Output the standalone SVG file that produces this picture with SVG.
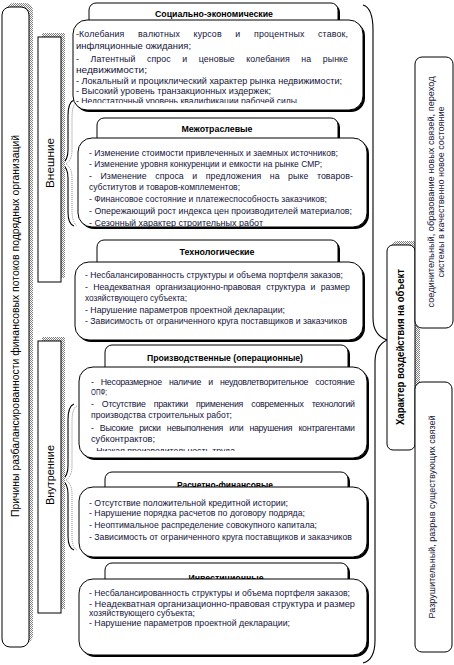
<svg xmlns="http://www.w3.org/2000/svg" width="454" height="665" viewBox="0 0 454 665">
<defs>
<pattern id="hatch" width="2" height="2" patternUnits="userSpaceOnUse">
<rect width="2" height="2" fill="#fff"/>
<rect x="0" y="0" width="1" height="1" fill="#808080"/>
<rect x="1" y="1" width="1" height="1" fill="#808080"/>
</pattern>
<clipPath id="c1"><rect x="70" y="18" width="300" height="85"/></clipPath>
<clipPath id="c4"><rect x="75" y="365" width="300" height="86"/></clipPath>
</defs>
<style>
.box{fill:#fff;stroke:#000;stroke-width:1}
.sh{fill:#000}
.hs{fill:url(#hatch)}
.br{fill:none;stroke:#000;stroke-width:1.1}
.brs{fill:none;stroke:#888;stroke-width:1;stroke-dasharray:1 1}
.t{font-family:"Liberation Sans",Arial,sans-serif;font-size:8.8px;fill:#14143a}
.h{font-family:"Liberation Sans",Arial,sans-serif;font-size:9px;font-weight:bold;fill:#000}
.v{font-family:"Liberation Sans",Arial,sans-serif;font-size:10px;fill:#000}
.vb{font-family:"Liberation Sans",Arial,sans-serif;font-size:10px;font-weight:bold;fill:#000}
.r{font-family:"Liberation Sans",Arial,sans-serif;font-size:8.5px;fill:#14143a}
</style>

<g id="connectors">
<path class="brs" d="M77,102 Q72,104 72,118 L72,150 Q72,160 66,164 Q72,168 72,178 L72,210 Q72,222 77,226"/>
<path class="br" d="M74,100 Q68,102 68,116 L68,150 Q68,160 62,164 Q68,168 68,178 L68,212 Q68,224 74,226"/>
<path class="brs" d="M77,406 Q72,408 72,422 L72,466 Q72,476 66,480 Q72,484 72,494 L72,536 Q72,548 77,550"/>
<path class="br" d="M74,404 Q68,406 68,420 L68,466 Q68,476 62,480 Q68,484 68,494 L68,536 Q68,548 74,550"/>
<path class="br" d="M363,5 Q373,8 373,30 L373,318 Q373,335 387,340 Q375,346 375,362 L375,640 Q375,660 363,663"/>
</g>

<g id="root">
<rect class="hs" x="6" y="3" width="27" height="640" rx="8"/>
<rect class="box" x="2" y="7" width="27" height="640" rx="8"/>
<text class="v" transform="translate(19,326) rotate(-90)" text-anchor="middle" textLength="382" lengthAdjust="spacingAndGlyphs">Причины разбалансированности финансовых потоков подрядных организаций</text>
</g>

<g id="external">
<rect class="hs" x="42" y="33" width="23" height="245"/>
<rect class="box" x="38" y="37" width="23" height="245"/>
<text class="v" transform="translate(53.5,163) rotate(-90)" text-anchor="middle" textLength="50" lengthAdjust="spacingAndGlyphs">Внешние</text>
</g>

<g id="internal">
<rect class="hs" x="42" y="337" width="23" height="272"/>
<rect class="box" x="38" y="341" width="23" height="272"/>
<text class="v" transform="translate(53.5,475) rotate(-90)" text-anchor="middle" textLength="60" lengthAdjust="spacingAndGlyphs">Внутренние</text>
</g>

<g id="socio">
<rect class="sh" x="91" y="5" width="249" height="30" rx="7"/>
<rect class="box" x="89" y="3" width="249" height="30" rx="7"/>
<text class="h" x="214" y="17" text-anchor="middle" textLength="118" lengthAdjust="spacingAndGlyphs">Социально-экономические</text>
<rect class="sh" x="75" y="22" width="290" height="90" rx="14"/>
<rect class="box" x="73" y="20" width="290" height="90" rx="14"/>
<g clip-path="url(#c1)">
<text class="t" x="76" y="37" textLength="272" lengthAdjust="spacing" style="word-spacing:11px">-Колебания валютных курсов и процентных ставок,</text>
<text class="t" x="76" y="49" textLength="115" lengthAdjust="spacingAndGlyphs">инфляционные ожидания;</text>
<text class="t" x="76" y="62" textLength="272" lengthAdjust="spacing" style="word-spacing:9px">- Латентный спрос и ценовые колебания на рынке</text>
<text class="t" x="76" y="73" textLength="71" lengthAdjust="spacingAndGlyphs">недвижимости;</text>
<text class="t" x="76" y="84" textLength="266" lengthAdjust="spacingAndGlyphs">- Локальный и проциклический характер рынка недвижимости;</text>
<text class="t" x="76" y="94" textLength="195" lengthAdjust="spacingAndGlyphs">- Высокий уровень транзакционных издержек;</text>
<text class="t" x="76" y="104" textLength="221" lengthAdjust="spacingAndGlyphs">- Недостаточный уровень квалификации рабочей силы</text>
</g>
</g>

<g id="intersector">
<rect class="sh" x="99" y="120" width="241" height="30" rx="7"/>
<rect class="box" x="97" y="118" width="241" height="30" rx="7"/>
<text class="h" x="217" y="131.5" text-anchor="middle" textLength="71" lengthAdjust="spacingAndGlyphs">Межотраслевые</text>
<rect class="sh" x="80" y="140" width="289" height="89" rx="14"/>
<rect class="box" x="78" y="138" width="289" height="89" rx="14"/>
<text class="t" x="89" y="156" textLength="249" lengthAdjust="spacingAndGlyphs">- Изменение стоимости привлеченных и заемных источников;</text>
<text class="t" x="89" y="167" textLength="233" lengthAdjust="spacingAndGlyphs">- Изменение уровня конкуренции и емкости на рынке СМР;</text>
<text class="t" x="89" y="179" textLength="264" lengthAdjust="spacing" style="word-spacing:6px">- Изменение спроса и предложения на рыке товаров-</text>
<text class="t" x="89" y="190" textLength="151" lengthAdjust="spacingAndGlyphs">субститутов и товаров-комплементов;</text>
<text class="t" x="89" y="202" textLength="238" lengthAdjust="spacingAndGlyphs">- Финансовое состояние и платежеспособность заказчиков;</text>
<text class="t" x="89" y="214" textLength="263" lengthAdjust="spacingAndGlyphs">- Опережающий рост индекса цен производителей материалов;</text>
<text class="t" x="89" y="226" textLength="174" lengthAdjust="spacingAndGlyphs">- Сезонный характер строительных работ</text>
</g>

<g id="tech">
<rect class="sh" x="99" y="242" width="241" height="30" rx="7"/>
<rect class="box" x="97" y="240" width="241" height="30" rx="7"/>
<text class="h" x="217" y="254.5" text-anchor="middle" textLength="75" lengthAdjust="spacingAndGlyphs">Технологические</text>
<rect class="sh" x="77" y="264" width="288" height="78" rx="14"/>
<rect class="box" x="75" y="262" width="288" height="78" rx="14"/>
<text class="t" x="85" y="278" textLength="258" lengthAdjust="spacingAndGlyphs">- Несбалансированность структуры и объема портфеля заказов;</text>
<text class="t" x="85" y="290" textLength="265" lengthAdjust="spacing" style="word-spacing:3px">- Неадекватная организационно-правовая структура и размер</text>
<text class="t" x="85" y="301" textLength="102" lengthAdjust="spacingAndGlyphs">хозяйствующего субъекта;</text>
<text class="t" x="85" y="313" textLength="200" lengthAdjust="spacingAndGlyphs">- Нарушение параметров проектной декларации;</text>
<text class="t" x="85" y="324" textLength="262" lengthAdjust="spacingAndGlyphs">- Зависимость от ограниченного круга поставщиков и заказчиков</text>
</g>

<g id="production">
<rect class="sh" x="107" y="347" width="243" height="30" rx="7"/>
<rect class="box" x="105" y="345" width="243" height="30" rx="7"/>
<text class="h" x="225" y="360.5" text-anchor="middle" textLength="156" lengthAdjust="spacingAndGlyphs">Производственные (операционные)</text>
<rect class="sh" x="81" y="369" width="288" height="91" rx="14"/>
<rect class="box" x="79" y="367" width="288" height="91" rx="14"/>
<g clip-path="url(#c4)">
<text class="t" x="91" y="385" textLength="264" lengthAdjust="spacing" style="word-spacing:5px">- Несоразмерное наличие и неудовлетворительное состояние</text>
<text class="t" x="91" y="395" textLength="16" lengthAdjust="spacingAndGlyphs">ОПФ;</text>
<text class="t" x="91" y="407" textLength="264" lengthAdjust="spacing" style="word-spacing:6px">- Отсутствие практики применения современных технологий</text>
<text class="t" x="91" y="418" textLength="141" lengthAdjust="spacingAndGlyphs">производства строительных работ;</text>
<text class="t" x="91" y="431" textLength="264" lengthAdjust="spacing" style="word-spacing:4px">- Высокие риски невыполнения или нарушения контрагентами</text>
<text class="t" x="91" y="442" textLength="64" lengthAdjust="spacingAndGlyphs">субконтрактов;</text>
<text class="t" x="91" y="454" textLength="144" lengthAdjust="spacingAndGlyphs">- Низкая производительность труда</text>
</g>
</g>

<g id="finance">
<rect class="sh" x="107" y="474" width="243" height="30" rx="7"/>
<rect class="box" x="105" y="472" width="243" height="30" rx="7"/>
<text class="h" x="225" y="487.5" text-anchor="middle" textLength="96" lengthAdjust="spacingAndGlyphs">Расчетно-финансовые</text>
<rect class="sh" x="81" y="489" width="288" height="70" rx="14"/>
<rect class="box" x="79" y="487" width="288" height="70" rx="14"/>
<text class="t" x="89" y="506" textLength="199" lengthAdjust="spacingAndGlyphs">- Отсутствие положительной кредитной истории;</text>
<text class="t" x="89" y="516" textLength="216" lengthAdjust="spacingAndGlyphs">- Нарушение порядка расчетов по договору подряда;</text>
<text class="t" x="89" y="528" textLength="228" lengthAdjust="spacingAndGlyphs">- Неоптимальное распределение совокупного капитала;</text>
<text class="t" x="89" y="540" textLength="263" lengthAdjust="spacingAndGlyphs">- Зависимость от ограниченного круга поставщиков и заказчиков</text>
</g>

<g id="invest">
<rect class="sh" x="107" y="565" width="243" height="30" rx="7"/>
<rect class="box" x="105" y="563" width="243" height="30" rx="7"/>
<text class="h" x="226" y="580.5" text-anchor="middle" textLength="75" lengthAdjust="spacingAndGlyphs">Инвестиционные</text>
<rect class="sh" x="81" y="581" width="288" height="76" rx="14"/>
<rect class="box" x="79" y="579" width="288" height="76" rx="14"/>
<text class="t" x="89" y="596" textLength="261" lengthAdjust="spacingAndGlyphs">- Несбалансированность структуры и объема портфеля заказов;</text>
<text class="t" x="89" y="607" textLength="266" lengthAdjust="spacingAndGlyphs">- Неадекватная организационно-правовая структура и размер</text>
<text class="t" x="89" y="616" textLength="106" lengthAdjust="spacingAndGlyphs">хозяйствующего субъекта;</text>
<text class="t" x="89" y="626" textLength="201" lengthAdjust="spacingAndGlyphs">- Нарушение параметров проектной декларации;</text>
</g>

<g id="impact">
<rect class="hs" x="391" y="241" width="29" height="205" rx="6"/>
<rect class="box" x="387" y="245" width="28" height="205" rx="6"/>
<text class="vb" transform="translate(403.5,347) rotate(-90)" text-anchor="middle" textLength="156" lengthAdjust="spacingAndGlyphs">Характер воздействия на объект</text>
</g>

<g id="constructive">
<rect class="box" x="415" y="57" width="38" height="271" rx="7"/>
<text class="r" transform="translate(434,192) rotate(-90)" text-anchor="middle" textLength="231" lengthAdjust="spacingAndGlyphs">соединительный, образование новых связей, переход</text>
<text class="r" transform="translate(443.5,192) rotate(-90)" text-anchor="middle" textLength="171" lengthAdjust="spacingAndGlyphs">системы в качественно новое состояние</text>
</g>

<g id="destructive">
<rect class="box" x="415" y="382" width="37" height="270" rx="7"/>
<text class="r" transform="translate(434.5,517) rotate(-90)" text-anchor="middle" textLength="203" lengthAdjust="spacingAndGlyphs">Разрушительный, разрыв существующих связей</text>
</g>
</svg>
